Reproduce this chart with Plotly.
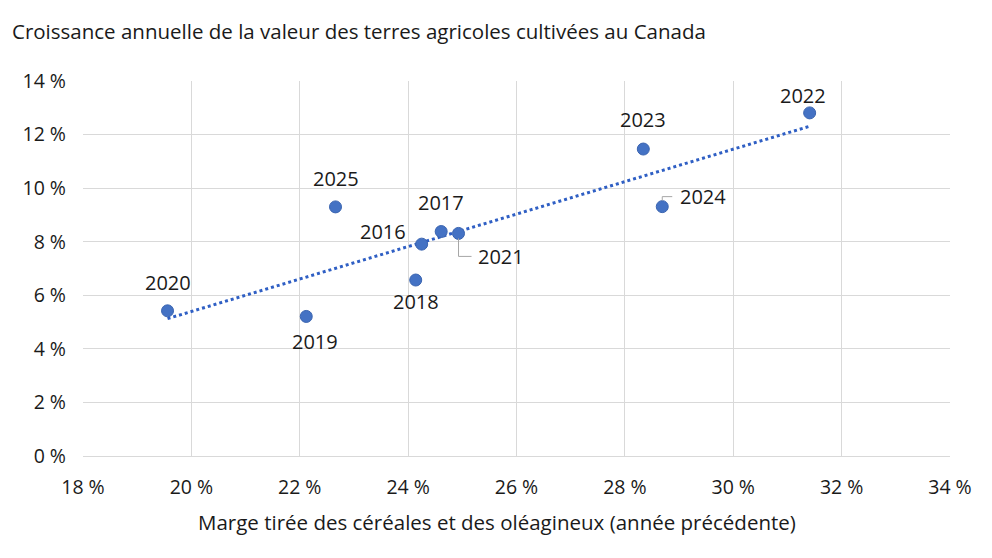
import numpy as np
import plotly.graph_objects as go

# Marge tirée des céréales et oléagineux (%), croissance de la valeur des terres (%)
years = ["2016", "2017", "2018", "2019", "2020", "2021", "2022", "2023", "2024", "2025"]
marge = [24.25, 24.61, 24.14, 22.12, 19.56, 24.93, 31.41, 28.34, 28.69, 22.66]
croissance = [7.91, 8.38, 6.57, 5.21, 5.42, 8.31, 12.81, 11.46, 9.31, 9.30]

x_ticks = [18, 20, 22, 24, 26, 28, 30, 32, 34]
x_labels = ["18 %", "20 %", "22 %", "24 %", "26 %", "28 %", "30 %", "32 %", "34 %"]
y_ticks = [0, 2, 4, 6, 8, 10, 12, 14]
y_labels = ["0 %", "2 %", "4 %", "6 %", "8 %", "10 %", "12 %", "14 %"]

# label offsets in pixels (dx, dy up)
label_shift = {
    "2016": (-39, 13), "2017": (0, 29), "2018": (0, -21), "2019": (9, -25),
    "2020": (0, 28), "2021": (42, -23), "2022": (-7, 17), "2023": (0, 30),
    "2024": (41, 10), "2025": (0, 28),
}
# leader lines (pixels relative to the point)
leaders = {
    "2021": "M 0 -5 L 0 -23 L 13 -23",
    "2024": "M 0 6 L 0 10 L 10 10",
}

FONT = "Open Sans"
TXT = "#1a1a1a"

# linear trend line over the data
slope, intercept = np.polyfit(marge, croissance, 1)
trend_x = np.array([min(marge), max(marge)])
trend_y = slope * trend_x + intercept

fig = go.Figure()
fig.add_trace(go.Scatter(
    x=trend_x, y=trend_y, mode="lines",
    line=dict(color="#2f5fc4", width=3, dash="dot"),
    hoverinfo="skip", showlegend=False,
))
fig.add_trace(go.Scatter(
    x=marge, y=croissance, mode="markers",
    marker=dict(color="#4472c4", size=12, line=dict(color="#3a64b0", width=1)),
    text=years, hovertemplate="%{text}: %{x} %, %{y} %<extra></extra>",
    showlegend=False,
))

for yr, xv, yv in zip(years, marge, croissance):
    dx, dy = label_shift[yr]
    fig.add_annotation(x=xv, y=yv, text=yr, showarrow=False,
                       xshift=dx, yshift=dy,
                       font=dict(family=FONT, size=20, color=TXT))
    if yr in leaders:
        fig.add_shape(type="path", xref="x", yref="y",
                      xsizemode="pixel", ysizemode="pixel",
                      xanchor=xv, yanchor=yv, path=leaders[yr],
                      line=dict(color="#a6a6a6", width=1))

# x axis title (sits a bit left of the plot centre, as in the original)
fig.add_annotation(
    text="Marge tirée des céréales et des oléagineux (année précédente)",
    xref="paper", yref="paper", x=0.5, y=0, xshift=-20, yshift=-66,
    xanchor="center", yanchor="middle", showarrow=False,
    font=dict(family=FONT, size=20.5, color=TXT),
)

fig.update_layout(
    width=992, height=558,
    margin=dict(l=75, r=50, t=73, b=110),
    paper_bgcolor="white", plot_bgcolor="white",
    font=dict(family=FONT, size=19.5, color=TXT),
    title=dict(text="Croissance annuelle de la valeur des terres agricoles cultivées au Canada",
               x=4 / 992, xanchor="left", y=1 - 24 / 558, yanchor="middle",
               font=dict(family=FONT, size=20.5, color=TXT)),
)
fig.update_xaxes(
    range=[18, 34], tickmode="array", tickvals=x_ticks, ticktext=x_labels,
    showgrid=True, gridcolor="#d9d9d9", gridwidth=1,
    zeroline=False, showline=True, linecolor="#d9d9d9",
    ticks="", ticklabelstandoff=14,
)
fig.update_yaxes(
    range=[0, 14], tickmode="array", tickvals=y_ticks, ticktext=y_labels,
    showgrid=True, gridcolor="#d9d9d9", gridwidth=1,
    zeroline=False, showline=False, ticks="", ticklabelstandoff=16,
)

fig.write_html("out.html")
